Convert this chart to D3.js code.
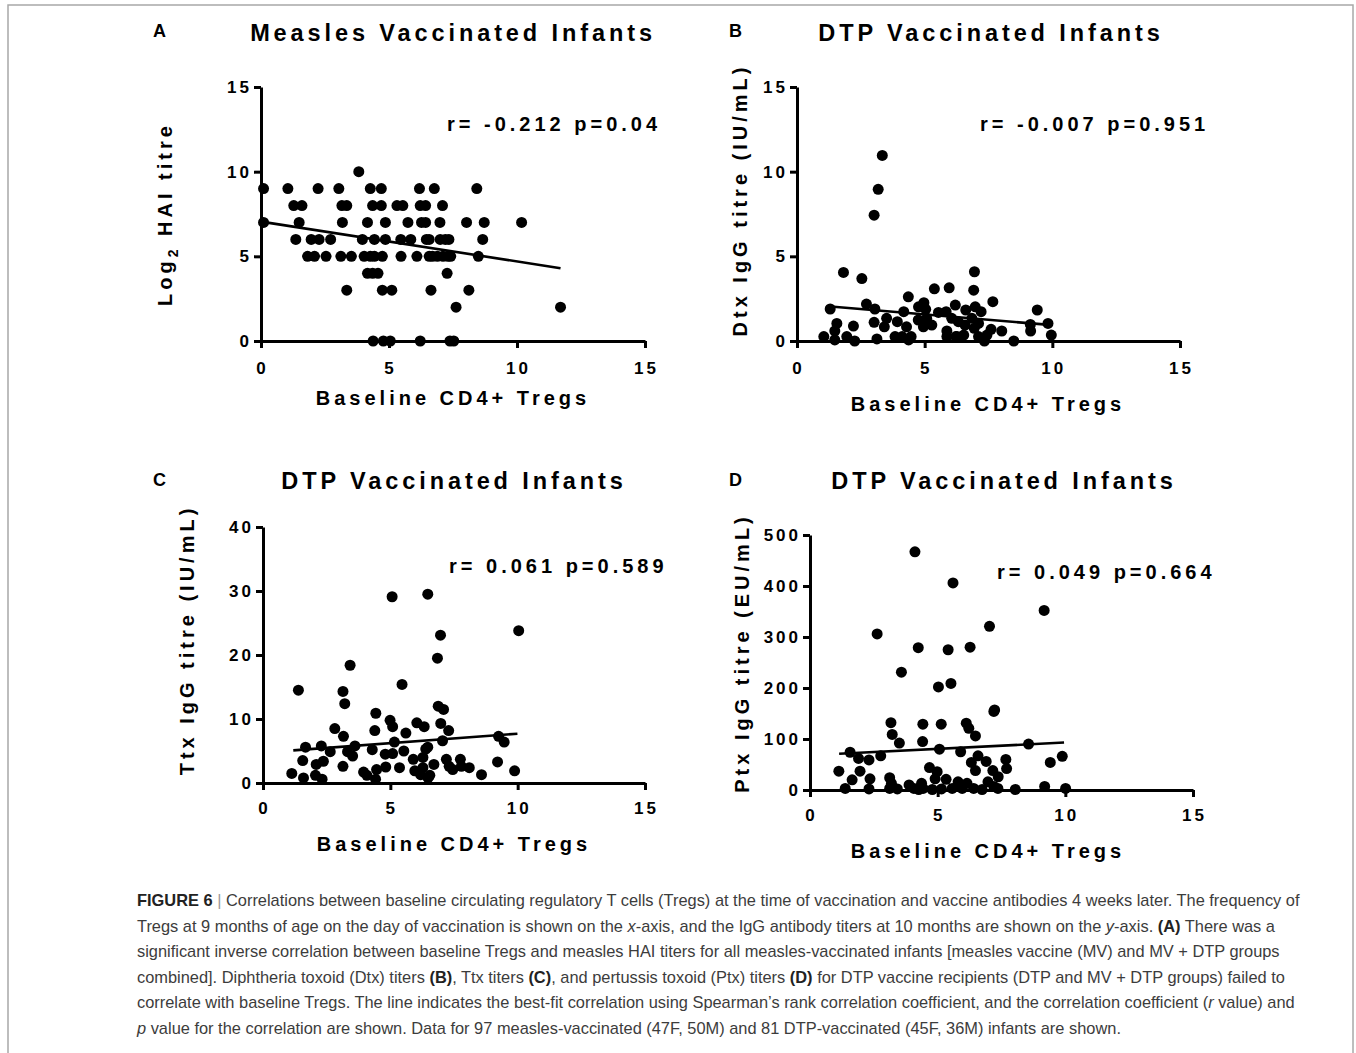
<!DOCTYPE html>
<html>
<head>
<meta charset="utf-8">
<script src="https://cdn.jsdelivr.net/npm/d3@7.9.0/dist/d3.min.js"></script>
<style>
  body { margin: 0; background: #fff; }
  svg { display: block; }
  .chart text { font-family: Arial, "Liberation Sans", sans-serif; font-weight: bold; fill: #000; }
  .caption text { font-family: "Liberation Sans", Arial, sans-serif; fill: #3c3c3c; }
</style>
</head>
<body>
<svg id="fig" width="1356" height="1053"></svg>
<script>
// ---- data ----
const xTicks = [0, 5, 10, 15];

// A: measles, baseline Tregs vs log2 HAI titre
const measlesPoints = [
  [0.1, 9], [1.05, 9], [2.23, 9], [3.04, 9], [4.27, 9], [4.7, 9], [6.19, 9], [6.77, 9], [8.43, 9],
  [3.82, 10],
  [1.28, 8], [1.6, 8], [3.16, 8], [3.35, 8], [4.36, 8], [4.7, 8], [5.31, 8], [5.54, 8], [6.22, 8], [6.43, 8], [7.09, 8],
  [0.1, 7], [1.49, 7], [3.18, 7], [4.16, 7], [4.86, 7], [5.74, 7], [6.27, 7], [6.43, 7], [6.99, 7], [8.03, 7], [8.72, 7], [10.18, 7],
  [1.36, 6], [1.96, 6], [2.27, 6], [2.72, 6], [3.96, 6], [4.43, 6], [4.86, 6], [5.46, 6], [5.85, 6], [6.46, 6], [6.57, 6], [7.0, 6], [7.2, 6], [7.34, 6], [8.66, 6],
  [1.82, 5], [2.09, 5], [2.54, 5], [3.12, 5], [3.53, 5], [4.03, 5], [4.27, 5], [4.43, 5], [4.74, 5], [5.47, 5], [6.09, 5], [6.57, 5], [6.7, 5], [6.89, 5], [7.11, 5], [7.3, 5], [7.41, 5], [8.49, 5],
  [4.16, 4], [4.36, 4], [4.57, 4], [7.27, 4],
  [3.35, 3], [4.74, 3], [5.11, 3], [6.64, 3], [8.12, 3],
  [7.62, 2], [11.7, 2],
  [4.38, 0], [4.78, 0], [5.05, 0], [6.22, 0], [7.38, 0], [7.53, 0]
];
const measlesFit = [[0, 7.05], [11.7, 4.3]];

// B: DTP, baseline Tregs vs Dtx IgG titre
const dtxPoints = [
  [3.18, 8.96], [3.02, 7.43], [3.34, 10.96], [1.82, 4.05], [2.54, 3.69], [6.95, 4.09], [6.92, 3.0], [5.38, 3.08],
  [5.96, 3.14], [4.36, 2.61], [7.67, 2.32], [2.72, 2.18], [4.97, 2.26], [4.76, 2.02], [6.2, 2.12], [1.3, 1.89],
  [3.05, 1.89], [4.18, 1.73], [5.04, 1.87], [5.54, 1.69], [5.84, 1.73], [6.61, 1.83], [6.98, 2.02], [7.21, 1.73],
  [9.41, 1.83], [3.51, 1.34], [1.56, 1.04], [2.21, 0.88], [3.02, 1.1], [3.93, 1.14], [4.75, 1.24], [5.08, 1.34],
  [5.28, 0.94], [6.06, 1.34], [6.32, 1.14], [6.58, 0.94], [6.85, 1.34], [7.11, 1.04], [9.14, 0.98], [9.83, 1.04],
  [3.42, 0.84], [4.29, 0.84], [4.95, 0.84], [6.94, 0.75], [7.6, 0.69], [8.02, 0.59], [9.15, 0.59], [5.87, 0.59],
  [1.48, 0.59], [1.05, 0.26], [1.95, 0.26], [3.84, 0.26], [4.12, 0.26], [4.47, 0.26], [5.87, 0.26], [6.26, 0.26],
  [6.53, 0.35], [7.11, 0.26], [7.44, 0.35], [9.96, 0.35], [1.48, 0.06], [2.26, 0], [3.13, 0.12], [4.37, 0.06],
  [6.22, 0.26], [7.34, 0], [8.49, 0]
];
const dtxFit = [[1.2, 2.05], [9.9, 0.95]];

// C: DTP, baseline Tregs vs Ttx IgG titre
const ttxPoints = [
  [1.39, 14.5], [3.14, 14.3], [3.21, 12.4], [3.42, 18.4], [5.07, 29.1], [6.47, 29.5], [6.97, 23.1], [6.85, 19.5],
  [10.04, 23.8], [5.46, 15.4], [6.88, 12.0], [7.09, 11.5], [4.43, 10.9], [4.99, 9.8], [5.09, 8.8], [6.04, 9.4],
  [6.33, 8.8], [6.98, 9.3], [7.29, 8.2], [2.82, 8.5], [4.39, 8.2], [3.16, 7.3], [5.61, 7.8], [7.05, 6.6],
  [9.25, 7.3], [9.47, 6.4], [5.16, 6.4], [1.67, 5.6], [2.29, 5.8], [2.64, 4.9], [3.61, 5.8], [3.32, 4.9],
  [3.52, 4.2], [4.29, 5.2], [4.8, 4.5], [5.09, 4.6], [5.53, 5.0], [6.39, 5.3], [6.47, 5.6], [1.56, 3.5],
  [2.37, 3.4], [2.09, 2.9], [3.14, 2.6], [5.9, 3.7], [6.28, 4.0], [6.71, 2.9], [7.2, 3.7], [7.31, 2.6],
  [7.75, 3.7], [7.79, 2.6], [7.45, 2.1], [8.1, 2.4], [9.21, 3.3], [9.88, 1.9], [1.13, 1.5], [2.06, 1.2],
  [3.95, 1.7], [4.08, 1.2], [4.46, 2.1], [4.82, 2.5], [5.36, 2.4], [5.96, 1.9], [6.19, 1.3], [6.28, 2.4],
  [6.55, 1.2], [8.58, 1.3], [1.59, 0.8], [2.32, 0.6], [4.42, 0.6], [6.48, 0.8]
];
const ttxFit = [[1.19, 5.1], [9.99, 7.7]];

// D: DTP, baseline Tregs vs Ptx IgG titre
const ptxPoints = [
  [4.11, 467], [5.6, 406], [9.17, 352], [7.03, 321], [2.63, 306], [4.24, 279], [5.41, 275], [6.27, 280],
  [3.58, 231], [5.52, 209], [5.03, 202], [7.23, 157], [7.2, 154], [3.17, 132], [4.42, 129], [5.14, 129],
  [6.12, 131], [6.22, 121], [3.22, 109], [6.48, 106], [3.5, 92], [4.41, 95], [8.56, 90], [5.07, 80],
  [1.57, 74], [5.9, 75], [2.77, 67], [9.88, 66], [1.9, 62], [2.31, 59], [6.58, 67], [6.9, 56],
  [7.67, 60], [7.7, 42], [6.32, 54], [9.41, 54], [1.13, 37], [1.96, 37], [4.68, 44], [4.98, 36],
  [6.48, 38], [7.16, 38], [2.35, 22], [1.65, 20], [3.12, 24], [4.9, 22], [5.33, 21], [7.37, 26],
  [3.19, 13], [4.37, 13], [5.8, 16], [6.15, 13], [6.97, 16], [3.88, 10], [9.19, 7], [1.38, 3],
  [2.31, 2], [3.12, 3], [3.42, 2], [4.07, 3], [4.26, 1], [4.43, 3], [4.79, 1], [5.96, 3],
  [6.41, 3], [6.74, 1], [7.36, 3], [8.04, 1], [10.01, 3], [5.15, 2], [5.57, 3], [7.2, 7]
];
const ptxFit = [[1.14, 71], [9.95, 93]];

const titles = ["Measles Vaccinated Infants", "DTP Vaccinated Infants", "DTP Vaccinated Infants", "DTP Vaccinated Infants"];
const statsText = ["r= -0.212 p=0.04", "r= -0.007 p=0.951", "r= 0.061 p=0.589", "r= 0.049 p=0.664"];
const yLabels = ["Log2 HAI titre", "Dtx IgG titre (IU/mL)", "Ttx IgG titre (IU/mL)", "Ptx IgG titre (EU/mL)"];
const yTickSets = [[0, 5, 10, 15], [0, 5, 10, 15], [0, 10, 20, 30, 40], [0, 100, 200, 300, 400, 500]];
const letters = ["A", "B", "C", "D"];

// ---- layout (pixels) ----
const panels = [
  { pts: measlesPoints, fit: measlesFit, left: 261, right: 645, top: 87, bottom: 341,
    title: [453, 41], letter: [153, 37], stat: [447, 131], xlab: [453, 405], ylab: [172, 214], tickY: 374 },
  { pts: dtxPoints, fit: dtxFit, left: 797, right: 1180, top: 87, bottom: 341,
    title: [991, 41], letter: [729, 37], stat: [980, 131], xlab: [988, 411], ylab: [747, 200], tickY: 374 },
  { pts: ttxPoints, fit: ttxFit, left: 263, right: 645, top: 527, bottom: 783,
    title: [454, 489], letter: [153, 486], stat: [449, 573], xlab: [454, 851], ylab: [194, 640], tickY: 814 },
  { pts: ptxPoints, fit: ptxFit, left: 810, right: 1193, top: 535, bottom: 790,
    title: [1004, 489], letter: [729, 486], stat: [997, 579], xlab: [988, 858], ylab: [749, 653], tickY: 821 }
];

const svg = d3.select("#fig");

// outer frame
svg.append("rect")
  .attr("x", 8).attr("y", 5).attr("width", 1345).attr("height", 1070)
  .attr("fill", "none").attr("stroke", "#a8a8a8").attr("stroke-width", 1.5);

const chart = svg.append("g").attr("class", "chart");

panels.forEach((p, i) => {
  const yTicks = yTickSets[i];
  const x = d3.scaleLinear().domain([0, 15]).range([p.left, p.right]);
  const y = d3.scaleLinear().domain([0, d3.max(yTicks)]).range([p.bottom, p.top]);
  const g = chart.append("g");

  // axes
  const xAxis = g.append("g")
    .attr("transform", `translate(0,${p.bottom})`)
    .call(d3.axisBottom(x).tickValues(xTicks).tickSize(7).tickSizeOuter(0).tickFormat(""));
  const yAxis = g.append("g")
    .attr("transform", `translate(${p.left},0)`)
    .call(d3.axisLeft(y).tickValues(yTicks).tickSize(7).tickSizeOuter(0).tickFormat(""));
  [xAxis, yAxis].forEach(a => {
    a.select(".domain").attr("stroke", "#000").attr("stroke-width", 3);
    a.selectAll(".tick line").attr("stroke", "#000").attr("stroke-width", 3);
  });

  // tick labels
  g.selectAll(".xt").data(xTicks).enter().append("text")
    .attr("x", d => x(d) + 1.5).attr("y", p.tickY)
    .attr("text-anchor", "middle").attr("font-size", 17).attr("letter-spacing", 3)
    .text(d => d);
  g.selectAll(".yt").data(yTicks).enter().append("text")
    .attr("x", p.left - 9).attr("y", d => y(d) + 6)
    .attr("text-anchor", "end").attr("font-size", 17).attr("letter-spacing", 3)
    .text(d => d);

  // points
  g.selectAll("circle").data(p.pts).enter().append("circle")
    .attr("cx", d => x(d[0])).attr("cy", d => y(d[1]))
    .attr("r", 5.5).attr("fill", "#000");

  // best-fit line
  g.append("path")
    .attr("d", d3.line().x(d => x(d[0])).y(d => y(d[1]))(p.fit))
    .attr("stroke", "#000").attr("stroke-width", 2.6).attr("fill", "none");

  // texts
  g.append("text").attr("x", p.title[0]).attr("y", p.title[1])
    .attr("text-anchor", "middle").attr("font-size", 23.5).attr("letter-spacing", 3.9)
    .text(titles[i]);
  g.append("text").attr("x", p.letter[0]).attr("y", p.letter[1])
    .attr("font-size", 18).text(letters[i]);
  g.append("text").attr("x", p.stat[0]).attr("y", p.stat[1])
    .attr("font-size", 20).attr("letter-spacing", 4).attr("xml:space", "preserve")
    .text(statsText[i]);
  g.append("text").attr("x", p.xlab[0]).attr("y", p.xlab[1])
    .attr("text-anchor", "middle").attr("font-size", 20).attr("letter-spacing", 4)
    .text("Baseline CD4+ Tregs");

  const yl = g.append("text")
    .attr("transform", `translate(${p.ylab[0]},${p.ylab[1]}) rotate(-90)`)
    .attr("text-anchor", "middle").attr("font-size", 20).attr("letter-spacing", 4);
  if (i === 0) {
    yl.append("tspan").text("Log");
    yl.append("tspan").attr("font-size", 14).attr("dy", 6).text("2");
    yl.append("tspan").attr("dy", -6).text(" HAI titre");
  } else {
    yl.text(yLabels[i]);
  }
});

// ---- caption ----
const captionLines = [
  [["b", "FIGURE 6"], ["sep", " | "], ["", "Correlations between baseline circulating regulatory T cells (Tregs) at the time of vaccination and vaccine antibodies 4 weeks later. The frequency of"]],
  [["", "Tregs at 9 months of age on the day of vaccination is shown on the "], ["i", "x"], ["", "-axis, and the IgG antibody titers at 10 months are shown on the "], ["i", "y"], ["", "-axis. "], ["b", "(A)"], ["", " There was a"]],
  [["", "significant inverse correlation between baseline Tregs and measles HAI titers for all measles-vaccinated infants [measles vaccine (MV) and MV + DTP groups"]],
  [["", "combined]. Diphtheria toxoid (Dtx) titers "], ["b", "(B)"], ["", ", Ttx titers "], ["b", "(C)"], ["", ", and pertussis toxoid (Ptx) titers "], ["b", "(D)"], ["", " for DTP vaccine recipients (DTP and MV + DTP groups) failed to"]],
  [["", "correlate with baseline Tregs. The line indicates the best-fit correlation using Spearman\u2019s rank correlation coefficient, and the correlation coefficient ("], ["i", "r"], ["", " value) and"]],
  [["i", "p"], ["", " value for the correlation are shown. Data for 97 measles-vaccinated (47F, 50M) and 81 DTP-vaccinated (45F, 36M) infants are shown."]]
];

const cap = svg.append("g").attr("class", "caption");
captionLines.forEach((line, li) => {
  const t = cap.append("text")
    .attr("x", 137).attr("y", 906 + li * 25.6)
    .attr("font-size", 16.4).attr("xml:space", "preserve");
  line.forEach(([style, str]) => {
    const s = t.append("tspan").text(str);
    if (style === "b") s.attr("font-weight", "bold").attr("fill", "#222");
    if (style === "i") s.attr("font-style", "italic");
    if (style === "sep") s.attr("fill", "#999");
  });
});
</script>
</body>
</html>
